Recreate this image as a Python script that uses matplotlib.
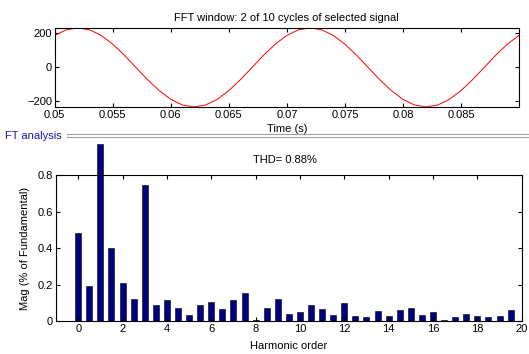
import matplotlib.pyplot as plt
from matplotlib.lines import Line2D

plt.rcParams['font.family'] = ['Liberation Sans', 'DejaVu Sans']
plt.rcParams['font.size'] = 8

# signal samples (every 1 ms)
time_s = [0.050 + 0.001 * i for i in range(41)]
signal = [183, 216, 227, 216, 183, 132, 68, -4, -75, -139, -190, -223, -234, -223,
          -190, -139, -75, -4, 68, 132, 183, 216, 227, 216, 183, 132, 68, -4, -75,
          -139, -190, -223, -234, -223, -190, -139, -75, -4, 68, 132, 183]

# harmonic spectrum, half-order steps
harmonic = [0.5 * i for i in range(40)]
mag = [0.48, 0.19, 0.97, 0.40, 0.206, 0.119, 0.745, 0.09, 0.113, 0.071,
       0.033, 0.09, 0.104, 0.066, 0.113, 0.152, 0.004, 0.071, 0.122, 0.038,
       0.047, 0.09, 0.066, 0.033, 0.099, 0.029, 0.02, 0.053, 0.026, 0.062,
       0.071, 0.033, 0.047, 0.005, 0.024, 0.038, 0.026, 0.02, 0.026, 0.058]
thd = 0.88

fig = plt.figure(figsize=(5.29, 3.54), dpi=100)

# top panel: time signal
ax1 = fig.add_axes([0.1034, 0.6966, 0.8777, 0.2251])
ax1.plot(time_s, signal, color='red', lw=0.7)
ax1.set_xlim(0.05, 0.09)
ax1.set_ylim(-237, 228)
ax1.set_xticks([0.05, 0.055, 0.06, 0.065, 0.07, 0.075, 0.08, 0.085])
ax1.set_xticklabels(['0.05', '0.055', '0.06', '0.065', '0.07', '0.075', '0.08', '0.085'])
ax1.set_yticks([-200, 0, 200])
ax1.tick_params(direction='in', top=True, right=True, length=3, pad=2)
ax1.set_title('FFT window: 2 of 10 cycles of selected signal', fontsize=8, pad=5)
ax1.set_xlabel('Time (s)', labelpad=3)

# panel separator
fig.text(5 / 529, 1 - 136 / 354, 'FT analysis', color='#1a1aa6', fontsize=8,
         va='center', ha='left')
for yy in (134.3, 136.8):
    fig.add_artist(Line2D([67 / 529, 1], [1 - yy / 354] * 2, color='#a0a0a0', lw=0.8))

# bottom panel: harmonic spectrum
ax2 = fig.add_axes([0.1059, 0.0932, 0.8803, 0.4124])
bars = ax2.bar(harmonic, mag, width=0.27, color='#000080', edgecolor='black', lw=0.4)
for b in bars:
    b.set_clip_on(False)
ax2.set_xlim(-1, 20)
ax2.set_ylim(0, 0.8)
ax2.set_xticks(range(0, 21, 2))
ax2.set_yticks([0, 0.2, 0.4, 0.6, 0.8])
ax2.set_yticklabels(['0', '0.2', '0.4', '0.6', '0.8'])
ax2.tick_params(direction='in', top=True, right=True, length=3, pad=2)
ax2.set_xlabel('Harmonic order', labelpad=5)
ax2.set_ylabel('Mag (% of Fundamental)', labelpad=6)
fig.text(285 / 529, 1 - 160 / 354, 'THD= %.2f%%' % thd, ha='center', va='center')

fig.savefig('out.png', dpi=100)
